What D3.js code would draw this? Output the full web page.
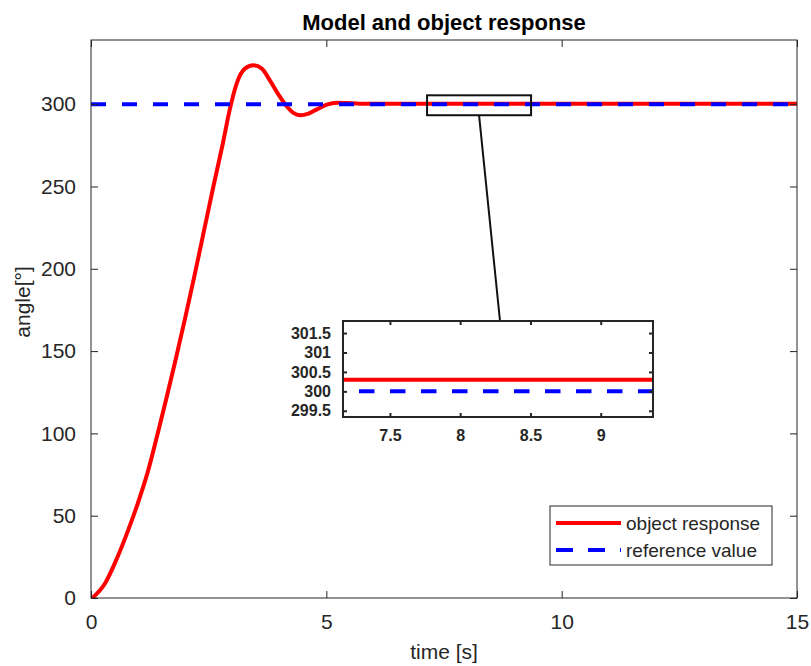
<!DOCTYPE html>
<html>
<head>
<meta charset="utf-8">
<script src="https://cdn.jsdelivr.net/npm/d3@7"></script>
<style>
  body { margin: 0; background: #fff; }
  svg { display: block; font-family: "Liberation Sans", Arial, sans-serif; }
</style>
</head>
<body>
<svg id="chart" width="811" height="666"></svg>
<script>
// object response
const timeS = [0.03, 0.30, 0.55, 0.80, 1.00, 1.20, 1.40, 1.60, 1.80, 2.00, 2.20, 2.40, 2.60, 2.80,
  2.95, 3.10, 3.27, 3.45, 3.63, 3.80, 3.98, 4.15, 4.30, 4.44, 4.62, 4.79, 5.01, 5.22, 5.43, 5.71,
  6.10, 7.0, 10.0, 15.0]
const angleDeg = [0, 9, 24, 42, 58, 76, 98, 121, 145, 170, 196, 223, 250, 276,
  297, 313, 321.6, 323.6, 321.6, 314.5, 306, 299, 294.7, 293.3, 294.3, 296.7, 299.7, 300.9, 300.7, 300.3,
  300.2, 300.3, 300.3, 300.3]

const refTime = [0, 15]
const refValue = [300, 300]

const xTicks = [0, 5, 10, 15]
const yTicks = [0, 50, 100, 150, 200, 250, 300]
const insetXTicks = [7.5, 8, 8.5, 9]
const insetYTicks = [299.5, 300, 300.5, 301, 301.5]
// zoom rectangle on the main axes [t0, t1, y0, y1]
const zoomBox = [7.14, 9.35, 293.3, 305.4]

const legendItems = ['object response', 'reference value']

const RED = '#ff0000'
const BLUE = '#0000ff'
const AX = '#262626'

const svg = d3.select('#chart')
const response = timeS.map((t, i) => ({t, v: angleDeg[i]}))
const reference = refTime.map((t, i) => ({t, v: refValue[i]}))

// main axes
const m = {left: 91, right: 797, top: 40, bottom: 598}
const x = d3.scaleLinear().domain([0, 15]).range([m.left, m.right])
const y = d3.scaleLinear().domain([0, 339]).range([m.bottom, m.top])

svg.append('defs').append('clipPath').attr('id', 'clipMain')
  .append('rect').attr('x', m.left).attr('y', m.top)
  .attr('width', m.right - m.left).attr('height', m.bottom - m.top)

const line = (sx, sy) => d3.line().x(d => sx(d.t)).y(d => sy(d.v)).curve(d3.curveMonotoneX)

const plot = svg.append('g').attr('clip-path', 'url(#clipMain)')
plot.append('path').datum(response)
  .attr('d', line(x, y)).attr('fill', 'none').attr('stroke', RED).attr('stroke-width', 4)
plot.append('path').datum(reference)
  .attr('d', line(x, y)).attr('fill', 'none').attr('stroke', BLUE).attr('stroke-width', 4)
  .attr('stroke-dasharray', '15,16')

// box + ticks, MATLAB style (inward ticks on all four sides)
const drawAxes = (g, sx, sy, xt, yt, tickLen, fmt, font, weight, boxW) => {
  const [x0, x1] = sx.range(), [y0, y1] = sy.range()
  g.append('rect').attr('x', x0).attr('y', y1).attr('width', x1 - x0).attr('height', y0 - y1)
    .attr('fill', 'none').attr('stroke', AX).attr('stroke-width', boxW)
  const bottom = g.append('g').attr('transform', `translate(0,${y0})`)
    .call(d3.axisBottom(sx).tickValues(xt).tickSizeInner(-tickLen).tickSizeOuter(0).tickPadding(tickLen + 9).tickFormat(fmt))
  const top = g.append('g').attr('transform', `translate(0,${y1})`)
    .call(d3.axisTop(sx).tickValues(xt).tickSizeInner(-tickLen).tickSizeOuter(0).tickFormat(''))
  const left = g.append('g').attr('transform', `translate(${x0},0)`)
    .call(d3.axisLeft(sy).tickValues(yt).tickSizeInner(-tickLen).tickSizeOuter(0).tickPadding(tickLen + 8).tickFormat(fmt))
  const right = g.append('g').attr('transform', `translate(${x1},0)`)
    .call(d3.axisRight(sy).tickValues(yt).tickSizeInner(-tickLen).tickSizeOuter(0).tickFormat(''))
  ;[bottom, top, left, right].forEach(a => {
    a.select('.domain').remove()
    a.selectAll('line').attr('stroke', AX).attr('stroke-width', boxW)
    a.selectAll('text').attr('fill', AX).style('font-size', font + 'px').style('font-weight', weight)
      .style('font-family', '"Liberation Sans", Arial, sans-serif')
  })
}

drawAxes(svg.append('g'), x, y, xTicks, yTicks, 7, d3.format('d'), 21, 'normal', 1)

svg.append('text').attr('x', (m.left + m.right) / 2).attr('y', 30).attr('text-anchor', 'middle')
  .style('font-size', '22px').style('font-weight', 'bold').attr('fill', '#000')
  .text('Model and object response')
svg.append('text').attr('x', (m.left + m.right) / 2).attr('y', 659).attr('text-anchor', 'middle')
  .style('font-size', '21px').attr('fill', AX).text('time [s]')
svg.append('text').attr('transform', 'translate(30,302) rotate(-90)').attr('text-anchor', 'middle')
  .style('font-size', '21px').attr('fill', AX).text('angle[°]')

// zoom rectangle and connector
svg.append('rect')
  .attr('x', x(zoomBox[0])).attr('y', y(zoomBox[3]))
  .attr('width', x(zoomBox[1]) - x(zoomBox[0])).attr('height', y(zoomBox[2]) - y(zoomBox[3]))
  .attr('fill', 'none').attr('stroke', '#111').attr('stroke-width', 2)

// inset axes
const ins = {left: 343, right: 653, top: 321, bottom: 417}
const xi = d3.scaleLinear().domain([7.166, 9.372]).range([ins.left, ins.right])
const yi = d3.scaleLinear().domain([299.34, 301.81]).range([ins.bottom, ins.top])

svg.append('line')
  .attr('x1', x((zoomBox[0] + zoomBox[1]) / 2)).attr('y1', y(zoomBox[2]))
  .attr('x2', 500).attr('y2', ins.top)
  .attr('stroke', '#111').attr('stroke-width', 2)

svg.append('rect').attr('x', ins.left).attr('y', ins.top)
  .attr('width', ins.right - ins.left).attr('height', ins.bottom - ins.top).attr('fill', '#fff')

svg.select('defs').append('clipPath').attr('id', 'clipInset')
  .append('rect').attr('x', ins.left).attr('y', ins.top)
  .attr('width', ins.right - ins.left).attr('height', ins.bottom - ins.top)

const inPlot = svg.append('g').attr('clip-path', 'url(#clipInset)')
inPlot.append('path').datum(response)
  .attr('d', line(xi, yi)).attr('fill', 'none').attr('stroke', RED).attr('stroke-width', 4)
inPlot.append('path').datum(reference)
  .attr('d', line(xi, yi)).attr('fill', 'none').attr('stroke', BLUE).attr('stroke-width', 4)
  .attr('stroke-dasharray', '15.5,15.5').attr('stroke-dashoffset', 0)

drawAxes(svg.append('g'), xi, yi, insetXTicks, insetYTicks, 4, d => String(d), 16, 'bold', 2)

// legend
const lg = svg.append('g').attr('transform', 'translate(550,506)')
lg.append('rect').attr('width', 222).attr('height', 59).attr('fill', '#fff')
  .attr('stroke', AX).attr('stroke-width', 1)
legendItems.forEach((label, i) => {
  const yy = 17 + i * 27
  lg.append('line').attr('x1', 6).attr('x2', 71).attr('y1', yy).attr('y2', yy)
    .attr('stroke', i === 0 ? RED : BLUE).attr('stroke-width', 4)
    .attr('stroke-dasharray', i === 0 ? null : '17,15')
  lg.append('text').attr('x', 76).attr('y', yy + 7).style('font-size', '19px').attr('fill', AX).text(label)
})
</script>
</body>
</html>
